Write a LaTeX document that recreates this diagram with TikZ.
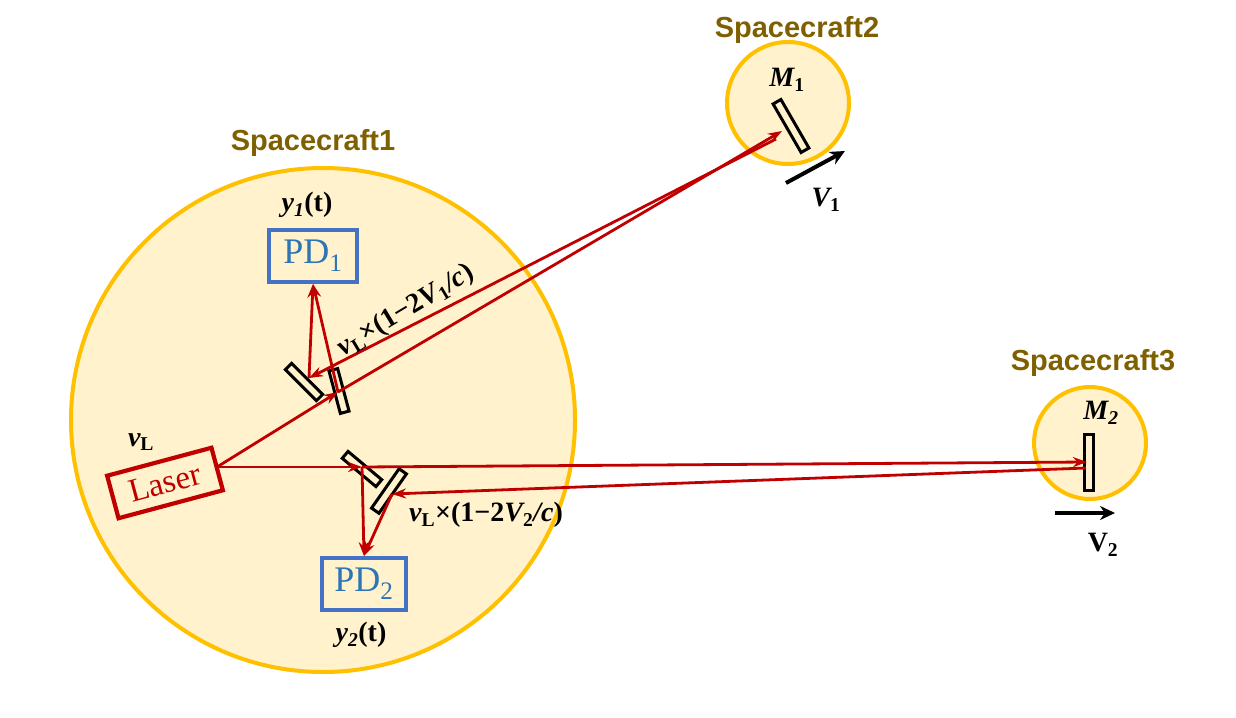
\documentclass[tikz,border=0pt]{standalone}
\usepackage{fontspec}
\setmainfont{Liberation Serif}
\newfontfamily\lsans{Liberation Sans}
\usetikzlibrary{arrows.meta}
\definecolor{bgf}{HTML}{FFF2CC}
\definecolor{bgd}{HTML}{FFC000}
\definecolor{brn}{HTML}{7F6000}
\definecolor{rd}{HTML}{C00000}
\definecolor{pdb}{HTML}{4472C4}
\definecolor{pdt}{HTML}{2E75B6}
\begin{document}
\begin{tikzpicture}[x=1pt,y=-1pt,
 craft/.style={circle,draw=bgd,line width=4pt,fill=bgf,inner sep=0},
 sc/.style={font=\lsans\bfseries\fontsize{29}{31}\selectfont,text=brn},
 mir/.style={draw=black,line width=3pt,fill=bgf,minimum width=32pt,minimum height=9pt,inner sep=0},
 pd/.style={draw=pdb,line width=4pt,fill=bgf,text=pdt,font=\fontsize{36}{38}\selectfont,minimum width=88pt,minimum height=52pt,inner sep=0},
 beam/.style={draw=rd,line width=2.8pt,-{Stealth[length=14pt,width=10pt]}},
 lab/.style={font=\bfseries\itshape\fontsize{28}{30}\selectfont}]
\useasboundingbox (0,0) rectangle (1236,717);
\node[craft,minimum size=504pt] (c1) at (323,420) {};
\node[craft,minimum size=122pt] (c2) at (788,103) {};
\node[craft,minimum size=112pt] (c3) at (1090,443) {};
\node[sc] (s1) at (313,143) {Spacecraft1};
\node[sc] (s2) at (797,30) {Spacecraft2};
\node[sc] (s3) at (1093,363) {Spacecraft3};
\node[pd] (pd1) at (313,256) {PD\textsubscript{1}};
\node[pd,minimum width=84pt] (pd2) at (364,584) {PD\textsubscript{2}};
\node[lab] (y1) at (307,205) {y\textsubscript{1}\textup{(t)}};
\node[lab] (y2) at (361,635) {y\textsubscript{2}\textup{(t)}};
\node[draw=rd,line width=4.2pt,fill=bgf,text=rd,rotate=15,minimum width=108pt,minimum height=44pt,inner sep=0,font=\fontsize{33}{35}\selectfont] (laser) at (165,483) {Laser};
\node[lab] (nuL) at (141,442) {ν\textsubscript{\textup{L}}};
\node[mir,minimum width=44pt,rotate=-45] (mA) at (304,382) {};
\node[mir,minimum width=44pt,rotate=-75] (mB) at (339,391) {};
\node[mir,minimum width=44pt,rotate=-40] (mC) at (362,469) {};
\node[mir,minimum width=48pt,rotate=55] (mD) at (389,491) {};
\node[mir,minimum width=56pt,rotate=-60] (m1) at (791,126) {};
\node[mir,minimum width=56pt,rotate=90] (m2) at (1089,462) {};
\node[lab] (M1) at (787,80) {M\textsubscript{\textup{1}}};
\node[lab] (M2) at (1101,413) {M\textsubscript{2}};
\coordinate (pA) at (309,378);
\coordinate (pB) at (338,392);
\coordinate (pC) at (362,467);
\coordinate (pD) at (392,494);
\coordinate (pM1a) at (782,131);
\coordinate (pM1b) at (776,139);
\coordinate (pM2a) at (1087,462);
\coordinate (pM2b) at (1086,468);
\coordinate (lo) at (217,467);
\path[beam] (lo) -- (pB);
\path[beam] (pB) -- (pM1a);
\path[beam] (pM1b) -- (pA);
\path[beam] (pA) -- (pd1.south);
\path[beam] (pB) -- (pd1.south);
\path[beam] (lo) -- (pC);
\path[beam] (pC) -- (pM2a);
\path[beam] (pM2b) -- (pD);
\path[beam] (pC) -- (pd2.north);
\path[beam] (pD) -- (pd2.north);
\node[lab,rotate=31] (f1) at (406,311) {ν\textsubscript{\textup{L}}\textup{×}\textup{(1−2}V\textsubscript{\textup{1}}/c\textup{)}};
\node[lab] (f2) at (486,515) {ν\textsubscript{\textup{L}}\textup{×}\textup{(1−2}V\textsubscript{\textup{2}}/c\textup{)}};
\coordinate (v1a) at (786,183); \coordinate (v1b) at (845,151);
\draw[line width=4pt,-{Stealth[length=15pt,width=14pt]}] (v1a) -- (v1b);
\node[lab] (V1) at (826,200) {V\textsubscript{\textup{1}}};
\coordinate (v2a) at (1055,513); \coordinate (v2b) at (1115,513);
\draw[line width=4pt,-{Stealth[length=15pt,width=14pt]}] (v2a) -- (v2b);
\node[lab,font=\bfseries\fontsize{28}{30}\selectfont] (V2) at (1103,545) {V\textsubscript{2}};
\end{tikzpicture}
\end{document}
